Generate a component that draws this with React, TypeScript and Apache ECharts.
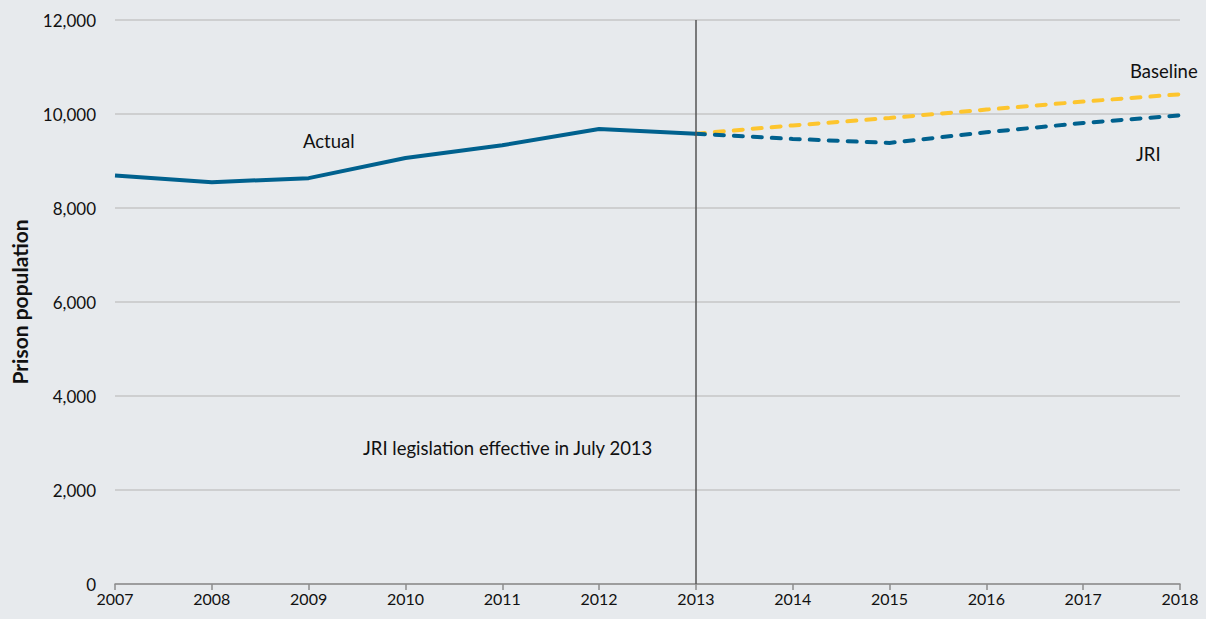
import React, { useEffect, useRef } from "react";
import * as echarts from "echarts";

const years = ["2007", "2008", "2009", "2010", "2011", "2012", "2013", "2014", "2015", "2016", "2017", "2018"];
const actual = [8690, 8550, 8635, 9065, 9335, 9680, 9580, null, null, null, null, null];
const baseline = [null, null, null, null, null, null, 9580, 9757, 9915, 10094, 10264, 10420];
const jri = [null, null, null, null, null, null, 9580, 9470, 9385, 9612, 9808, 9972];
const yTicks = { min: 0, max: 12000, interval: 2000 };

const FONT = "Lato, 'Open Sans', sans-serif";
const BLUE = "#00618e";
const YELLOW = "#fdc52e";

export default function App() {
  const ref = useRef<HTMLDivElement>(null);
  useEffect(() => {
    document.body.style.margin = "0";
    const chart = echarts.init(ref.current!, undefined, { renderer: "svg" });
    chart.setOption({
      animation: false,
      backgroundColor: "#e7eaed",
      textStyle: { fontFamily: FONT },
      grid: { left: 115, right: 26, top: 20, bottom: 35 },
      xAxis: {
        type: "category",
        data: years,
        boundaryGap: false,
        axisLine: { lineStyle: { color: "#8d8d8d", width: 1.5 } },
        axisTick: { show: true, length: 6, lineStyle: { color: "#8d8d8d", width: 1.5 } },
        axisLabel: { color: "#111", fontSize: 16, fontFamily: FONT, margin: 6 },
      },
      yAxis: {
        type: "value",
        min: yTicks.min,
        max: yTicks.max,
        interval: yTicks.interval,
        name: "Prison population",
        nameLocation: "middle",
        nameGap: 85,
        nameTextStyle: { fontSize: 21, fontWeight: "bold", color: "#111", fontFamily: FONT },
        axisLine: { show: false },
        axisTick: { show: false },
        splitLine: { lineStyle: { color: "#c6c6c6", width: 1.5 } },
        axisLabel: {
          color: "#111",
          fontSize: 17,
          fontFamily: FONT,
          margin: 19,
          formatter: (v: number) => v.toLocaleString("en-US"),
        },
      },
      series: [
        {
          name: "Baseline",
          type: "line",
          data: baseline,
          symbol: "none",
          lineStyle: { color: YELLOW, width: 4, type: [9, 10], cap: "round" },
          z: 2,
        },
        {
          name: "JRI",
          type: "line",
          data: jri,
          symbol: "none",
          lineStyle: { color: BLUE, width: 4, type: [9, 10], cap: "round" },
          z: 3,
        },
        {
          name: "Actual",
          type: "line",
          data: actual,
          symbol: "none",
          lineStyle: { color: BLUE, width: 4 },
          z: 4,
          markLine: {
            silent: true,
            symbol: "none",
            label: { show: false },
            lineStyle: { color: "#555", width: 1.5, type: "solid" },
            data: [{ xAxis: "2013" }],
          },
        },
      ],
      graphic: [
        { type: "text", left: 303, top: 131, style: { text: "Actual", font: `18.5px ${FONT}`, fill: "#111" } },
        { type: "text", left: 1130, top: 61, style: { text: "Baseline", font: `18.5px ${FONT}`, fill: "#111" } },
        { type: "text", left: 1136, top: 144, style: { text: "JRI", font: `18.5px ${FONT}`, fill: "#111" } },
        {
          type: "text",
          left: 363,
          top: 438,
          style: { text: "JRI legislation effective in July 2013", font: `18.5px ${FONT}`, fill: "#111" },
        },
      ],
    });
    return () => chart.dispose();
  }, []);
  return <div ref={ref} style={{ width: 1206, height: 619, position: "absolute", left: 0, top: 0 }} />;
}
